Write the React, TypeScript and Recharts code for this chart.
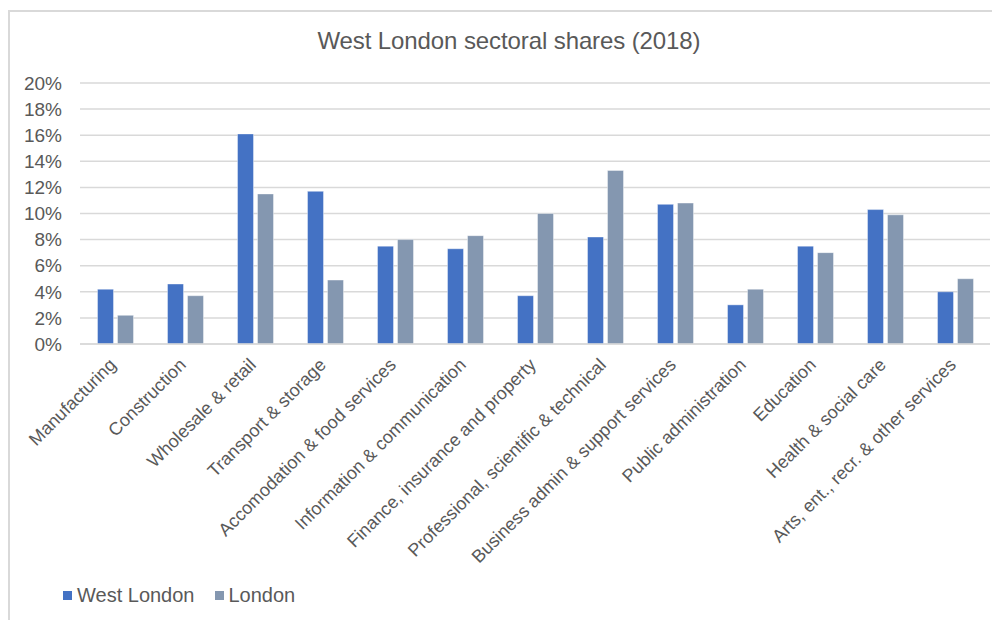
import { Bar, BarChart, CartesianGrid, XAxis, YAxis } from "recharts";

const categories = [
  "Manufacturing",
  "Construction",
  "Wholesale & retail",
  "Transport & storage",
  "Accomodation & food services",
  "Information & communication",
  "Finance, insurance and property",
  "Professional, scientific & technical",
  "Business admin & support services",
  "Public administration",
  "Education",
  "Health & social care",
  "Arts, ent., recr. & other services",
];

const westLondon = [4.2, 4.6, 16.1, 11.7, 7.5, 7.3, 3.7, 8.2, 10.7, 3.0, 7.5, 10.3, 4.0];
const london = [2.2, 3.7, 11.5, 4.9, 8.0, 8.3, 10.0, 13.3, 10.8, 4.2, 7.0, 9.9, 5.0];

const yTicks = [0, 2, 4, 6, 8, 10, 12, 14, 16, 18, 20];

const series = [
  { key: "westLondon", name: "West London", color: "#4472C4" },
  { key: "london", name: "London", color: "#8497B0" },
];

const data = categories.map((name, i) => ({
  name,
  westLondon: westLondon[i],
  london: london[i],
}));

const font = '"Liberation Sans", Arial, sans-serif';
const textColor = "#595959";

function CategoryTick({ x, y, payload }: any) {
  const ax = x + 2;
  const ay = y + 14;
  return (
    <text
      x={ax}
      y={ay}
      transform={`rotate(-45, ${ax}, ${ay})`}
      textAnchor="end"
      fill={textColor}
      fontSize={18}
      fontFamily={font}
    >
      {payload.value}
    </text>
  );
}

export default function App() {
  return (
    <div
      style={{
        position: "relative",
        margin: -8,
        width: 1000,
        height: 628,
        background: "#fff",
        fontFamily: font,
      }}
    >
      <div
        style={{
          position: "absolute",
          left: 8,
          top: 10,
          width: 992,
          height: 618,
          boxSizing: "border-box",
          borderTop: "2px solid #d9d9d9",
          borderLeft: "2px solid #d9d9d9",
        }}
      />
      <div
        style={{
          position: "absolute",
          left: 0,
          top: 27,
          width: 1018,
          textAlign: "center",
          fontSize: 24,
          color: textColor,
          letterSpacing: -0.1,
        }}
      >
        West London sectoral shares (2018)
      </div>
      <div style={{ position: "absolute", left: 0, top: 0 }}>
        <BarChart
          width={1000}
          height={628}
          data={data}
          margin={{ top: 83, right: 10, left: 0, bottom: 0 }}
          barCategoryGap="25%"
          barGap={4}
        >
          <CartesianGrid vertical={false} stroke="#d9d9d9" strokeWidth={1.5} />
          <XAxis
            dataKey="name"
            height={284}
            axisLine={{ stroke: "#d9d9d9", strokeWidth: 1.5 }}
            tickLine={false}
            interval={0}
            tick={<CategoryTick />}
          />
          <YAxis
            width={80}
            domain={[0, 20]}
            ticks={yTicks}
            interval={0}
            axisLine={false}
            tickLine={false}
            tickMargin={12}
            tickFormatter={(v) => `${v}%`}
            tick={{ fill: textColor, fontSize: 19, fontFamily: font }}
          />
          {series.map((s) => (
            <Bar
              key={s.key}
              dataKey={s.key}
              name={s.name}
              fill={s.color}
              stroke="#ffffff"
              strokeOpacity={0.4}
              strokeWidth={1}
              isAnimationActive={false}
            />
          ))}
        </BarChart>
      </div>
      <div
        style={{
          position: "absolute",
          left: 63,
          top: 584,
          display: "flex",
          alignItems: "center",
          fontSize: 20,
          color: textColor,
        }}
      >
        {series.map((s) => (
          <div
            key={s.key}
            style={{ display: "flex", alignItems: "center", marginRight: 20 }}
          >
            <span
              style={{
                display: "inline-block",
                width: 9,
                height: 9,
                background: s.color,
                marginRight: 5,
              }}
            />
            {s.name}
          </div>
        ))}
      </div>
    </div>
  );
}
